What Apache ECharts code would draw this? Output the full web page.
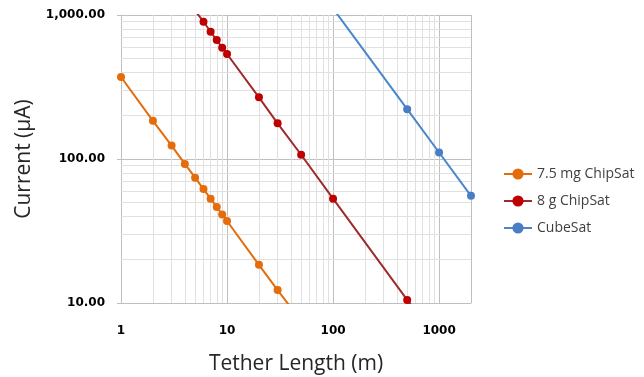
<!DOCTYPE html>
<html>
<head>
<meta charset="utf-8">
<script src="https://cdn.jsdelivr.net/npm/echarts@6/dist/echarts.min.js"></script>
<style>html,body{margin:0;padding:0;background:#fff}#c{width:644px;height:377px}</style>
</head>
<body>
<div id="c"></div>
<script>
// Data
const orangeX = [1, 2, 3, 4, 5, 6, 7, 8, 9, 10, 20, 30, 40];
const orangeY = [371, 184, 124, 92.5, 74.2, 61.8, 53, 46.4, 41.2, 37.1, 18.4, 12.3, 9.3];
const redX = [5, 6, 7, 8, 9, 10, 20, 30, 50, 100, 500, 1000];
const redY = [1071, 898, 765, 670, 593, 536, 268, 177, 107, 53, 10.5, 5.4];
const blueX = [100, 500, 1000, 2000];
const blueY = [1110, 222, 111, 55.5];
const seriesNames = ['7.5 mg ChipSat', '8 g ChipSat', 'CubeSat'];
const minorX = [2,3,4,5,6,7,8,9,20,30,40,50,60,70,80,90,200,300,400,500,600,700,800,900];
const minorY = [20,30,40,50,60,70,80,90,200,300,400,500,600,700,800,900];

function pairs(xs, ys) { return xs.map((x, i) => [x, ys[i]]); }
function fmtY(v) {
  const s = Number(v).toFixed(2);
  const [ip, dp] = s.split('.');
  return ip.replace(/\B(?=(\d{3})+(?!\d))/g, ',') + '.' + dp;
}

const chart = echarts.init(document.getElementById('c'));
const labelStyle = { fontFamily: 'DejaVu Sans', fontWeight: 'bold', fontSize: 12, color: '#000' };
chart.setOption({
  animation: false,
  grid: { left: 121, right: 173, top: 15, bottom: 74, containLabel: false, outerBoundsMode: 'none' },
  legend: {
    orient: 'vertical', left: 498, top: 162, itemGap: 13,
    itemWidth: 28, itemHeight: 14,
    data: seriesNames,
    textStyle: { fontFamily: 'Open Sans', fontSize: 14, color: '#404040' }
  },
  xAxis: {
    type: 'log', logBase: 10, min: 1, max: 2000,
    name: 'Tether Length (m)', nameLocation: 'middle', nameGap: 51,
    nameTextStyle: { fontFamily: 'Open Sans', fontSize: 21, color: '#262626' },
    axisLine: { show: true, lineStyle: { color: '#BFBFBF' } },
    axisTick: { show: false },
    axisLabel: Object.assign({ margin: 22, showMaxLabel: false, showMinLabel: true,
      formatter: v => String(Math.round(v)) }, labelStyle),
    splitLine: { show: true, lineStyle: { color: '#BFBFBF', width: 1 } }
  },
  yAxis: {
    type: 'log', logBase: 10, min: 10, max: 1000,
    name: 'Current (\u00B5A)', nameLocation: 'middle', nameGap: 86,
    nameTextStyle: { fontFamily: 'Open Sans', fontSize: 21, color: '#262626' },
    axisLine: { show: true, lineStyle: { color: '#BFBFBF' } },
    axisTick: { show: true, length: 4, lineStyle: { color: '#BFBFBF' } },
    axisLabel: Object.assign({ margin: 16, formatter: fmtY }, labelStyle),
    splitLine: { show: true, lineStyle: { color: '#BFBFBF', width: 1 } }
  },
  series: [
    {
      name: 'grid-minor', type: 'line', data: [], silent: true, z: 1,
      markLine: {
        silent: true, z: 1, symbol: ['none', 'none'], label: { show: false },
        lineStyle: { color: '#E0E0E0', width: 1, type: 'solid' },
        data: minorX.map(v => ({ xAxis: v })).concat(minorY.map(v => ({ yAxis: v })))
      }
    },
    {
      name: seriesNames[0], type: 'line', data: pairs(orangeX, orangeY), z: 3,
      symbol: 'circle', symbolSize: 8, showAllSymbol: true,
      lineStyle: { color: '#E46C0A', width: 2 }, itemStyle: { color: '#E46C0A' }
    },
    {
      name: seriesNames[1], type: 'line', data: pairs(redX, redY), z: 3,
      symbol: 'circle', symbolSize: 8, showAllSymbol: true,
      lineStyle: { color: '#9E2B2B', width: 2 }, itemStyle: { color: '#C00000' }
    },
    {
      name: seriesNames[2], type: 'line', data: pairs(blueX, blueY), z: 3,
      symbol: 'circle', symbolSize: 8, showAllSymbol: true,
      lineStyle: { color: '#4A86CC', width: 2 }, itemStyle: { color: '#4A7EC4' }
    }
  ]
});
</script>
</body>
</html>
